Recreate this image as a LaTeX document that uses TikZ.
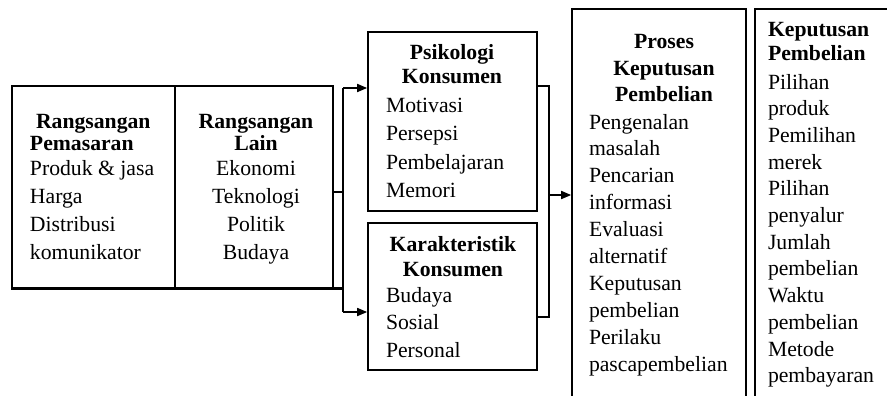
\documentclass[tikz,border=0pt]{standalone}
\usepackage{fontspec}
\setmainfont{Liberation Serif}
\usetikzlibrary{arrows.meta}
\begin{document}
\begin{tikzpicture}[x=1pt,y=-1pt,
  box/.style={draw, line width=1.6pt, inner sep=0pt},
  txt/.style={inner sep=0pt, outer sep=0pt},
  conn/.style={line width=1.6pt},
  arr/.style={line width=1.6pt, -{Triangle[length=10pt,width=8pt]}}]
\useasboundingbox (0,0) rectangle (887,396);
\clip (0,0) rectangle (887,396);
% boxes
\node[box, minimum width=321pt, minimum height=202pt] (stim) at (172.5,187) {};
\node[box, minimum width=169pt, minimum height=179pt] (psi) at (452.5,121.5) {};
\node[box, minimum width=169pt, minimum height=147pt] (kar) at (452.5,296.5) {};
\node[box, minimum width=174pt, minimum height=411pt] (proc) at (659,214.5) {};
\node[box, minimum width=145pt, minimum height=411pt] (kep) at (827.5,214.5) {};
% divider and thick base line of the stimulus box
\draw[conn] ([xshift=164pt]stim.north west) -- ([xshift=164pt]stim.south west);
\coordinate (busT) at (343,88);
\coordinate (busB) at (343,312);
\draw[line width=3pt] (stim.south west) -- (stim.south west -| busT);
% left connectors
\draw[conn] (busT) -- (busB);
\draw[conn] ([yshift=-5pt]stim.east) -- ([yshift=-5pt]stim.east -| busT);
\draw[arr] (busT) -- (busT -| psi.west);
\draw[arr] (busB) -- (busB -| kar.west);
% right connectors
\coordinate (bus2T) at (549,86);
\coordinate (bus2B) at (549,317);
\coordinate (bus2M) at (549,195);
\draw[conn] (bus2T -| psi.east) -- (bus2T) -- (bus2B) -- (bus2B -| kar.east);
\draw[arr] (bus2M) -- (bus2M -| proc.west);
% texts
\node[txt, align=left, anchor=north west, font=\fontsize{21.7}{28}\selectfont] (tstim) at (30,112)
  {\rule{0pt}{16pt}\hspace*{6pt}\textbf{Rangsangan}\\[-6pt]\textbf{Pemasaran}\\[-3pt]Produk \& jasa\\Harga\\Distribusi\\komunikator};
\node[txt, align=center, anchor=north, font=\fontsize{21.7}{28}\selectfont] (tlain) at (256,112)
  {\rule{0pt}{16pt}\textbf{Rangsangan}\\[-6pt]\textbf{Lain}\\[-3pt]Ekonomi\\Teknologi\\Politik\\Budaya};
\node[txt, align=center, anchor=north, font=\fontsize{21.7}{28}\selectfont] (tpsih) at (452,44)
  {\rule{0pt}{16pt}\textbf{Psikologi}\\[-4pt]\textbf{Konsumen}};
\node[txt, align=left, anchor=north west, font=\fontsize{21.7}{28.5}\selectfont] (tpsii) at (386,96)
  {\rule{0pt}{16pt}Motivasi\\Persepsi\\Pembelajaran\\Memori};
\node[txt, align=center, anchor=north, font=\fontsize{21.7}{28}\selectfont] (tkarh) at (453,235)
  {\rule{0pt}{16pt}\textbf{Karakteristik}\\[-3pt]\textbf{Konsumen}};
\node[txt, align=left, anchor=north west, font=\fontsize{21.7}{27.8}\selectfont] (tkari) at (386,286)
  {\rule{0pt}{16pt}Budaya\\Sosial\\Personal};
\node[txt, align=center, anchor=north, font=\fontsize{21.7}{26.4}\selectfont] (tproch) at (664,33)
  {\rule{0pt}{16pt}\textbf{Proses}\\\textbf{Keputusan}\\\textbf{Pembelian}};
\node[txt, align=left, anchor=north west, font=\fontsize{21.7}{26.9}\selectfont] (tproci) at (589,113)
  {\rule{0pt}{16pt}Pengenalan\\masalah\\Pencarian\\informasi\\Evaluasi\\alternatif\\Keputusan\\pembelian\\Perilaku\\pascapembelian};
\node[txt, align=left, anchor=north west, font=\fontsize{21.7}{26.7}\selectfont] (tkep) at (768,20)
  {\rule{0pt}{16pt}\textbf{Keputusan}\\[-2.2pt]\textbf{Pembelian}\\[1.8pt]Pilihan\\produk\\Pemilihan\\merek\\Pilihan\\penyalur\\Jumlah\\pembelian\\Waktu\\pembelian\\Metode\\pembayaran};
\end{tikzpicture}
\end{document}
